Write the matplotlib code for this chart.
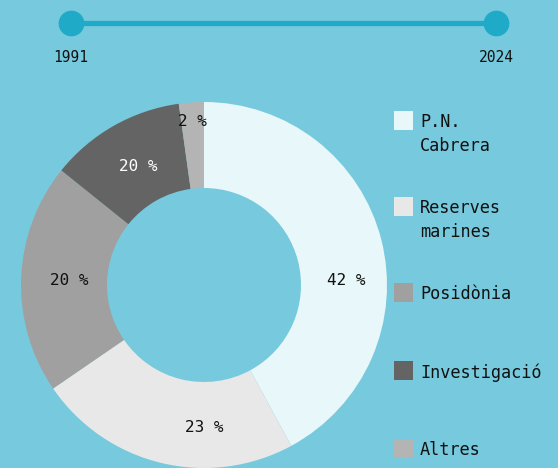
import numpy as np
import matplotlib
matplotlib.use("Agg")
import matplotlib.pyplot as plt
from matplotlib.patches import Rectangle

# data
categories = ["P.N.\nCabrera", "Reserves\nmarines", "Posidònia", "Investigació", "Altres"]
shares = [42, 23.3, 20.3, 12, 2.2]  # angular share
pct_labels = ["42 %", "23 %", "20 %", "20 %", "2 %"]
years = [1991, 2024]

# styles / layout
colors = ["#E8F7F9", "#E8E8E8", "#A0A0A0", "#646464", "#B4B4B4"]
label_colors = ["#111111", "#111111", "#111111", "#FFFFFF", "#111111"]
label_ang = [88, 180, 272, 331, 356]      # degrees clockwise from top
label_rad = [142, 142, 135, 136, 164]

BG = "#77CADD"
LINE = "#1FAAC8"
W, H = 558, 468

plt.rcParams["font.family"] = ["DejaVu Sans Mono"]

fig = plt.figure(figsize=(W / 100, H / 100), dpi=100, facecolor=BG)
ax = fig.add_axes([0, 0, 1, 1])
ax.set_facecolor(BG)

# timeline
ty = H - 23
tx = np.interp(years, [years[0], years[-1]], [71, 496])
ax.plot(tx, [ty, ty], color=LINE, lw=3.8, solid_capstyle="butt", zorder=2)
ax.plot(tx, [ty, ty], "o", color=LINE, ms=17.5, zorder=3)
for x, yr in zip(tx, years):
    ax.text(x, H - 57, str(yr), ha="center", va="center", fontsize=10.5, color="#111111")

# donut
cx, cy, r_out, r_in = 204, H - 285, 183, 97
wedges, _ = ax.pie(shares, colors=colors, startangle=90, counterclock=False,
                   center=(cx, cy), radius=r_out, frame=True,
                   wedgeprops=dict(width=r_out - r_in, linewidth=0))
ax.set_xlim(0, W)
ax.set_ylim(0, H)
ax.set_aspect("equal")
ax.axis("off")
for lab, lc, a, r in zip(pct_labels, label_colors, label_ang, label_rad):
    t = np.deg2rad(90 - a)
    ax.text(cx + r * np.cos(t), cy + r * np.sin(t), lab,
            ha="center", va="center", fontsize=11.5, color=lc)

# legend
top = 111
for cat, c in zip(categories, colors):
    y0 = H - top
    ax.add_patch(Rectangle((394, y0 - 19), 19, 19, facecolor=c, edgecolor="none"))
    ax.text(420, y0 - 2, cat, ha="left", va="top", fontsize=12.2,
            color="#111111", linespacing=1.4)
    top += 70 + 8 * (cat.count("\n") + 1)

fig.savefig("out.png", dpi=100, facecolor=BG)
